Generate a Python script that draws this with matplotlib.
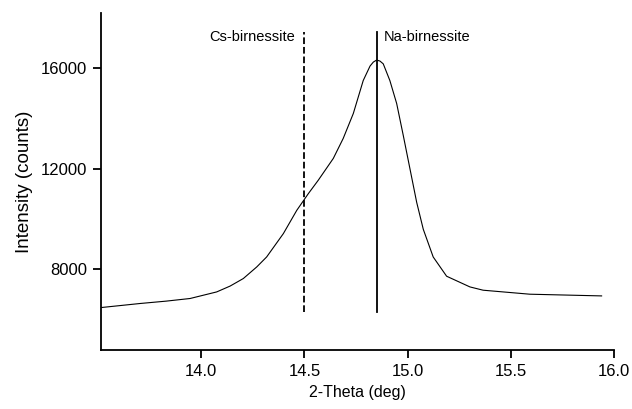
import matplotlib
matplotlib.use("Agg")
import matplotlib.pyplot as plt

plt.rcParams['font.family'] = ['Liberation Sans', 'DejaVu Sans']

# XRD scan around the (001) reflection
two_theta = [13.518, 13.704, 13.830, 13.946, 14.075, 14.140, 14.204, 14.269,
             14.317, 14.398, 14.463, 14.519, 14.567, 14.640, 14.688, 14.737,
             14.785, 14.818, 14.834, 14.850, 14.866, 14.882, 14.914, 14.947,
             14.979, 15.011, 15.044, 15.076, 15.124, 15.189, 15.302, 15.366,
             15.592, 15.940]
intensity = [6477, 6636, 6730, 6835, 7097, 7330, 7630, 8091,
             8489, 9419, 10346, 11010, 11543, 12413, 13209, 14203,
             15515, 16091, 16250, 16330, 16290, 16179, 15515, 14600,
             13328, 12016, 10664, 9590, 8489, 7722, 7296, 7165,
             7006, 6938]

# reference peak positions
ref_names = ["Cs-birnessite", "Na-birnessite"]
ref_pos = [14.5, 14.85]
ref_styles = ['--', '-']
ref_span = (6300, 17450)

x_ticks = [14.0, 14.5, 15.0, 15.5, 16.0]
y_ticks = [8000, 12000, 16000]

fig = plt.figure(figsize=(6.32, 4.09), dpi=100)
ax = fig.add_axes([0.160, 0.144, 0.8115, 0.824])

ax.plot(two_theta, intensity, color='black', lw=0.8)

for name, pos, ls in zip(ref_names, ref_pos, ref_styles):
    ax.plot([pos, pos], ref_span, color='black', lw=1.3, linestyle=ls)
    if ls == '--':
        ax.annotate(name, (pos, 17250), xytext=(-7, 0), textcoords='offset points',
                    ha='right', va='center', fontsize=10.5)
    else:
        ax.annotate(name, (pos, 17250), xytext=(5, 0), textcoords='offset points',
                    ha='left', va='center', fontsize=10.5)

ax.set_xlim(13.515, 16.0)
ax.set_ylim(4780, 18200)
ax.set_xticks(x_ticks)
ax.set_xticklabels([f"{t:.1f}" for t in x_ticks])
ax.set_yticks(y_ticks)

for side in ['top', 'right']:
    ax.spines[side].set_visible(False)
for side in ['left', 'bottom']:
    ax.spines[side].set_linewidth(1.3)
ax.tick_params(direction='out', length=6, width=1.3, labelsize=12, pad=4)

ax.set_xlabel("2-Theta (deg)", fontsize=11.5, labelpad=4)
ax.set_ylabel("Intensity (counts)", fontsize=13.5, labelpad=6)

plt.savefig("out.png", dpi=100)
